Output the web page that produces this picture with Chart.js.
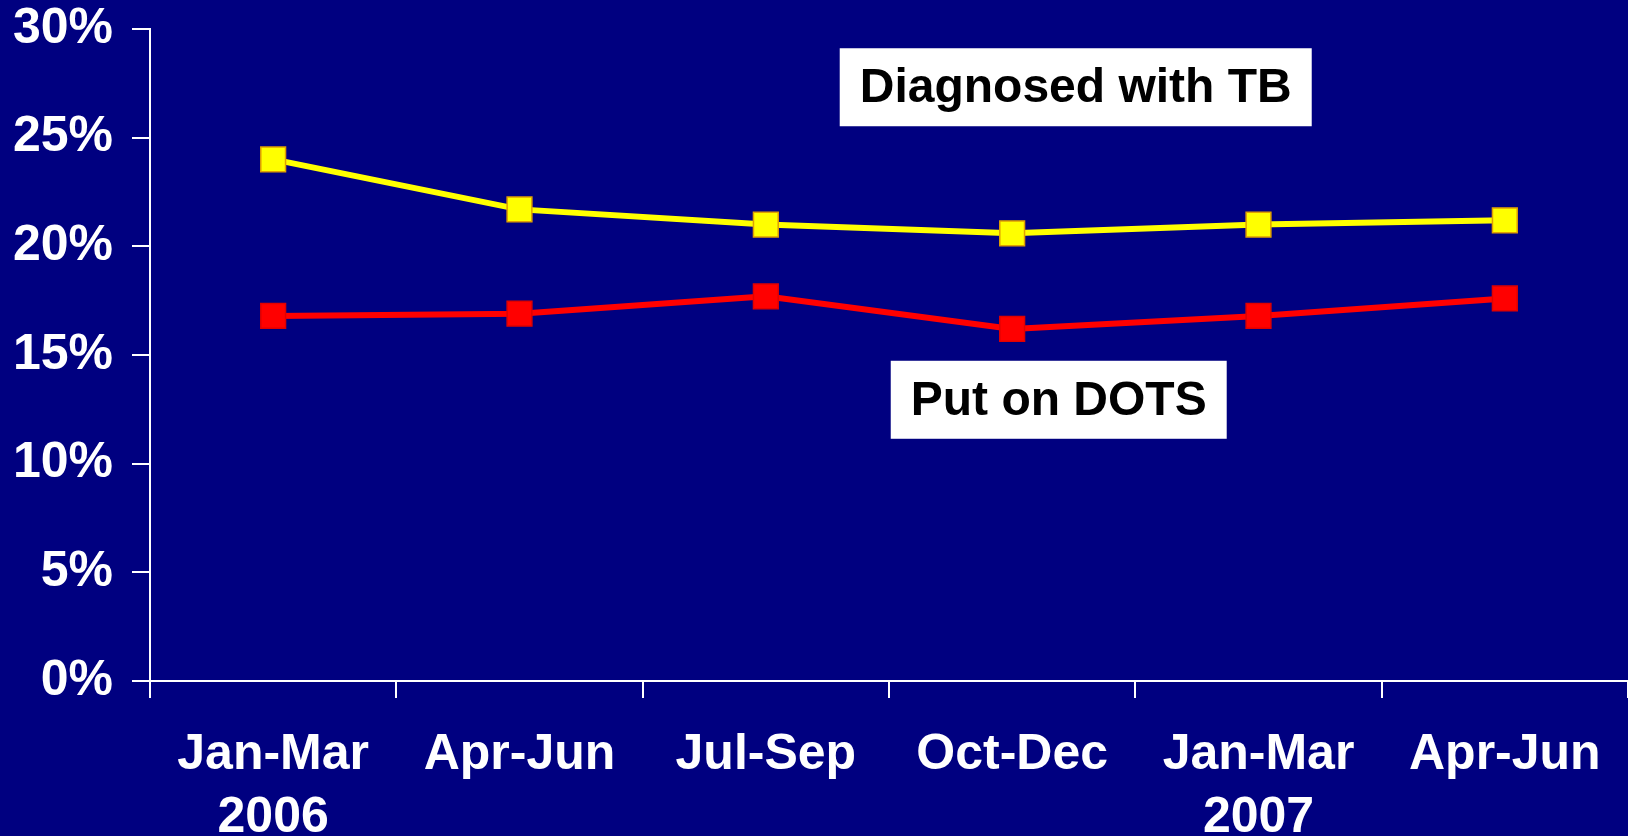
<!DOCTYPE html>
<html>
<head>
<meta charset="utf-8">
<script src="https://cdn.jsdelivr.net/npm/chart.js@4/dist/chart.umd.min.js"></script>
<style>
html,body{margin:0;padding:0;background:#000080;}
#c{display:block;}
</style>
</head>
<body>
<canvas id="c" width="1628" height="836"></canvas>
<script>
const categories = [["Jan-Mar","2006"],["Apr-Jun",""],["Jul-Sep",""],["Oct-Dec",""],["Jan-Mar","2007"],["Apr-Jun",""]];
const diagnosedTB = [24.0, 21.7, 21.0, 20.6, 21.0, 21.2];
const putOnDOTS = [16.8, 16.9, 17.7, 16.2, 16.8, 17.6];
const yTicks = [0, 5, 10, 15, 20, 25, 30];
const seriesNames = ["Diagnosed with TB", "Put on DOTS"];
// label boxes anchored in data coordinates (category index, percent)
const labelAnchors = [
  {text: seriesNames[0], x: 3.258, y: 27.32},
  {text: seriesNames[1], x: 3.189, y: 12.94}
];

const FONT = "'Liberation Sans', Arial, sans-serif";

const boxLabels = {
  id: 'boxLabels',
  afterDatasetsDraw(chart) {
    const ctx = chart.ctx;
    const xs = chart.scales.x, ys = chart.scales.y;
    ctx.save();
    ctx.font = "bold 48px " + FONT;
    ctx.textAlign = 'center';
    ctx.textBaseline = 'middle';
    labelAnchors.forEach(a => {
      const cx = xs.getPixelForValue(a.x);
      const cy = ys.getPixelForValue(a.y);
      const w = ctx.measureText(a.text).width + 40;
      const h = 78;
      ctx.fillStyle = '#ffffff';
      ctx.fillRect(cx - w/2, cy - h/2, w, h);
      ctx.fillStyle = '#000000';
      ctx.fillText(a.text, cx, cy + 2);
    });
    ctx.restore();
  }
};

new Chart(document.getElementById('c'), {
  type: 'line',
  data: {
    labels: categories,
    datasets: [
      {
        label: seriesNames[0],
        data: diagnosedTB,
        borderColor: '#ffff00',
        borderWidth: 6,
        pointStyle: 'rect',
        pointRadius: 17.5,
        pointBackgroundColor: '#ffff00',
        pointBorderColor: '#e0a000',
        pointBorderWidth: 1.5,
        tension: 0,
        clip: false
      },
      {
        label: seriesNames[1],
        data: putOnDOTS,
        borderColor: '#ff0000',
        borderWidth: 6,
        pointStyle: 'rect',
        pointRadius: 17.5,
        pointBackgroundColor: '#ff0000',
        pointBorderColor: '#e00000',
        pointBorderWidth: 1.5,
        tension: 0,
        clip: false
      }
    ]
  },
  options: {
    responsive: false,
    animation: false,
    layout: {padding: 0, autoPadding: false},
    plugins: {legend: {display: false}, tooltip: {enabled: false}},
    scales: {
      x: {
        offset: true,
        grid: {offset: true, drawOnChartArea: false, tickLength: 17, color: '#ffffff', lineWidth: 2},
        border: {display: true, color: '#ffffff', width: 2},
        ticks: {
          color: '#ffffff',
          font: {family: FONT, size: 50, weight: 'bold', lineHeight: 1.25},
          padding: 26,
          maxRotation: 0,
          autoSkip: false
        },
        afterFit(s) { s.height = 155; s.paddingLeft = 0; s.paddingRight = 0; }
      },
      y: {
        min: 0, max: 30,
        afterBuildTicks(s) { s.ticks = yTicks.map(v => ({value: v})); },
        grid: {drawOnChartArea: false, tickLength: 18, color: '#ffffff', lineWidth: 2},
        border: {display: true, color: '#ffffff', width: 2},
        ticks: {
          color: '#ffffff',
          font: {family: FONT, size: 50, weight: 'bold'},
          padding: 19,
          callback: v => v + '%'
        },
        afterFit(s) { s.width = 150; s.paddingTop = 29; s.paddingBottom = 0; }
      }
    }
  },
  plugins: [boxLabels]
});
</script>
</body>
</html>
